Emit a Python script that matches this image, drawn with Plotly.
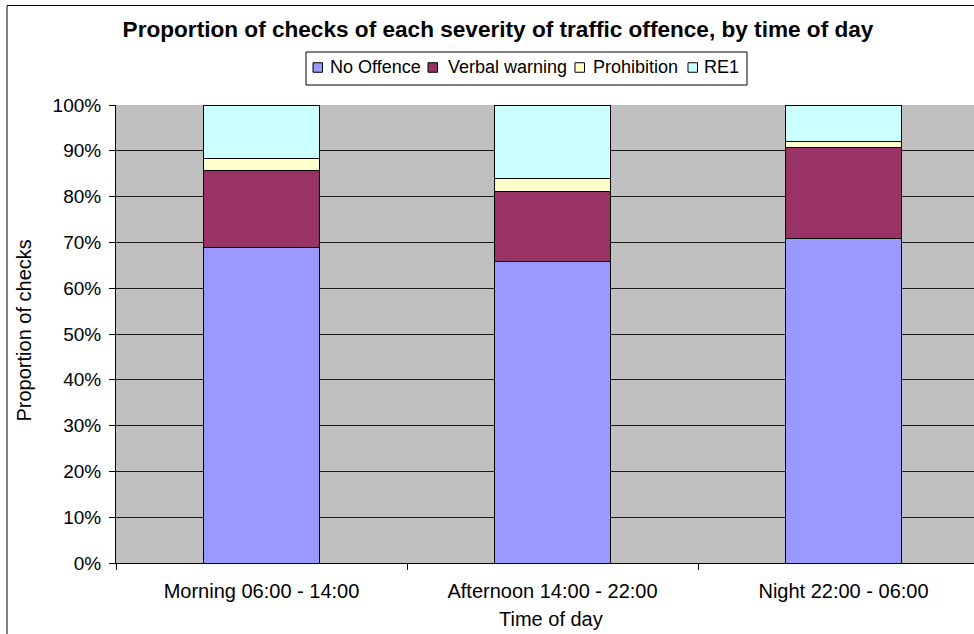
import plotly.graph_objects as go

# ---- data ----
categories = ["Morning 06:00 - 14:00", "Afternoon 14:00 - 22:00", "Night 22:00 - 06:00"]
series_names = ["No Offence", "Verbal warning", "Prohibition", "RE1"]
no_offence = [68.9, 65.8, 70.8]
verbal_warning = [16.9, 15.4, 20.0]
prohibition = [2.6, 2.8, 1.3]
re1 = [11.6, 16.0, 7.9]
y_ticks = [0, 10, 20, 30, 40, 50, 60, 70, 80, 90, 100]

series_values = [no_offence, verbal_warning, prohibition, re1]
colors = ["#9999FF", "#993366", "#FFFFCC", "#CCFFFF"]

FONT = "Liberation Sans, Arial, sans-serif"
W, H = 974, 634
L, R_EDGE, T, B = 116, 974, 105, 563
PW, PH = R_EDGE - L, B - T
CAT_W = 291.0


def px2x(px):
    return (px - L) / PW


def py2y(py):
    return (B - py) / PH


fig = go.Figure()
for name, vals, col in zip(series_names, series_values, colors):
    fig.add_trace(go.Bar(
        x=categories, y=vals, name=name,
        marker=dict(color=col, line=dict(color="#000000", width=1)),
        showlegend=False,
    ))

fig.update_layout(
    width=W, height=H,
    barmode="stack", bargap=0.6,
    margin=dict(l=L, r=W - R_EDGE, t=T, b=H - B, pad=0),
    paper_bgcolor="white", plot_bgcolor="#C0C0C0",
    font=dict(family=FONT, color="#000000", size=19),
    title=dict(
        text="Proportion of checks of each severity of traffic offence, by time of day",
        x=498 / W, xanchor="center", xref="container",
        y=1 - 29 / H, yanchor="middle", yref="container",
        font=dict(family=FONT, size=22.6, weight="bold", color="#000000"),
    ),
)

fig.update_xaxes(
    type="category", range=[-0.5, -0.5 + PW / CAT_W],
    showgrid=False, showline=True, linecolor="#000000", linewidth=1,
    ticks="outside", tickson="boundaries", ticklen=6, tickcolor="#000000",
    tickfont=dict(size=20), ticklabelstandoff=10,
)
fig.update_yaxes(
    range=[0, 100], tickvals=y_ticks, ticktext=[f"{v}%" for v in y_ticks],
    showgrid=True, gridcolor="#1a1a1a", gridwidth=1, zeroline=False,
    showline=True, linecolor="#000000", linewidth=1,
    ticks="outside", ticklen=6, tickcolor="#000000",
    tickfont=dict(size=19), ticklabelstandoff=4,
)

shapes = []
annotations = []

# outer chart border (chart continues beyond the crop on right/bottom)
shapes.append(dict(type="rect", xref="paper", yref="paper",
                   x0=px2x(7), x1=px2x(1100), y0=py2y(800), y1=py2y(5.5),
                   line=dict(color="#000000", width=1), fillcolor="rgba(0,0,0,0)",
                   layer="above"))

# legend box
leg_box = (306, 747, 52, 85)
shapes.append(dict(type="rect", xref="paper", yref="paper",
                   x0=px2x(leg_box[0]), x1=px2x(leg_box[1]),
                   y0=py2y(leg_box[3]), y1=py2y(leg_box[2]),
                   line=dict(color="#000000", width=1), fillcolor="white"))
sw_x = [313, 428, 575, 688]
txt_x = [328, 446, 591, 702]
sw_size = 9.5
leg_cy = 67.5
for name, col, sx, tx in zip(series_names, colors, sw_x, txt_x):
    shapes.append(dict(type="rect", xref="paper", yref="paper",
                       x0=px2x(sx), x1=px2x(sx + sw_size),
                       y0=py2y(leg_cy + sw_size / 2), y1=py2y(leg_cy - sw_size / 2),
                       line=dict(color="#000000", width=1), fillcolor=col))
    annotations.append(dict(text=name, xref="paper", yref="paper",
                            x=px2x(tx), y=py2y(leg_cy), xanchor="left", yanchor="middle",
                            showarrow=False, font=dict(size=18)))

# axis titles
annotations.append(dict(text="Proportion of checks", xref="paper", yref="paper",
                        x=px2x(23.5), y=py2y(331), textangle=-90,
                        xanchor="center", yanchor="middle", showarrow=False,
                        font=dict(size=20)))
annotations.append(dict(text="Time of day", xref="paper", yref="paper",
                        x=px2x(551), y=py2y(619),
                        xanchor="center", yanchor="middle", showarrow=False,
                        font=dict(size=20)))

fig.update_layout(shapes=shapes, annotations=annotations)
fig.write_html(
    "out.html",
    config={"displayModeBar": False},
    post_script="document.body.style.margin='0px';document.body.style.overflow='hidden';",
)
